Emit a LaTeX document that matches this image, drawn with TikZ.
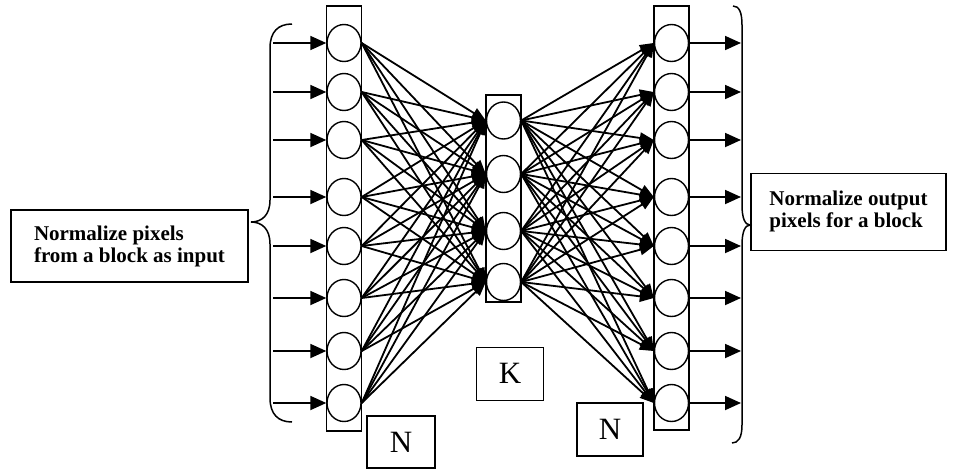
\documentclass[tikz,border=0pt]{standalone}
\usepackage{fontspec}
\setmainfont{Liberation Serif}
\usetikzlibrary{arrows.meta,shapes.geometric}
\begin{document}
\begin{tikzpicture}[x=1pt,y=-1pt,
  neuron/.style={ellipse,draw,line width=1.4pt,minimum width=34pt,minimum height=37pt,inner sep=0pt},
  col/.style={draw,line width=1.3pt,inner sep=0pt},
  conn/.style={line width=1.8pt,-{Triangle[length=14pt,width=11pt]}},
  io/.style={line width=1.8pt,-{Triangle[length=16pt,width=14pt]}},
  lbl/.style={draw,line width=1.4pt,font=\fontsize{21}{22}\selectfont\bfseries,align=left,inner sep=0pt},
  letter/.style={draw,line width=1.4pt,font=\fontsize{31}{31}\selectfont,inner sep=0pt},
  brace/.style={line width=1.5pt}]
\useasboundingbox (0,0) rectangle (956,469);

% column frames
\node[col,minimum width=35pt,minimum height=425pt] (colA) at (344,218.5) {};
\node[col,minimum width=35pt,minimum height=207pt] (colB) at (503.5,198.5) {};
\node[col,minimum width=35pt,minimum height=424pt] (colC) at (671.5,218) {};

% neurons
\foreach \i/\y in {1/43,2/92,3/140,4/197,5/246,6/298,7/351,8/403}{
  \node[neuron] (a\i) at (344,\y) {};
  \node[neuron] (c\i) at (671.5,\y) {};
  \coordinate (in\i) at (273,\y);
  \coordinate (out\i) at (741,\y);
}
\foreach \j/\y in {1/120.5,2/174,3/231,4/282}{
  \node[neuron] (b\j) at (503.5,\y) {};
}

% connections
\foreach \i in {1,...,8}{
  \foreach \j in {1,...,4}{
    \draw[conn] (a\i.east) -- (b\j.west);
    \draw[conn] (b\j.east) -- (c\i.west);
  }
  \draw[io] (in\i) -- (a\i.west);
  \draw[io] (c\i.east) -- (out\i);
}

% braces
\draw[brace] (292,24) .. controls (278,24) and (270,32) .. (270,48) -- (270,200)
  .. controls (270,215) and (262,222) .. (251,222)
  .. controls (262,222) and (270,229) .. (270,244) -- (270,398)
  .. controls (270,414) and (278,422) .. (292,422);
\draw[brace] (733,6) .. controls (739,6) and (742,12) .. (742,25) -- (742,205)
  .. controls (742,218) and (745,225) .. (750,225)
  .. controls (745,225) and (742,232) .. (742,245) -- (742,425)
  .. controls (742,438) and (738,443) .. (732,443);

% labels
\node[lbl,minimum width=237pt,minimum height=72pt] (inlbl) at (129.5,246)
  {Normalize pixels\\from a block as input};
\node[lbl,minimum width=195pt,minimum height=77pt] (outlbl) at (848.5,211.7)
  {Normalize output\\pixels for a block};
\node[letter,minimum width=67pt,minimum height=53pt] (K) at (510,373.7) {K};
\node[letter,minimum width=68pt,minimum height=52pt] (N1) at (401,442) {N};
\node[letter,minimum width=66pt,minimum height=53pt] (N2) at (610,429.5) {N};
\end{tikzpicture}
\end{document}
